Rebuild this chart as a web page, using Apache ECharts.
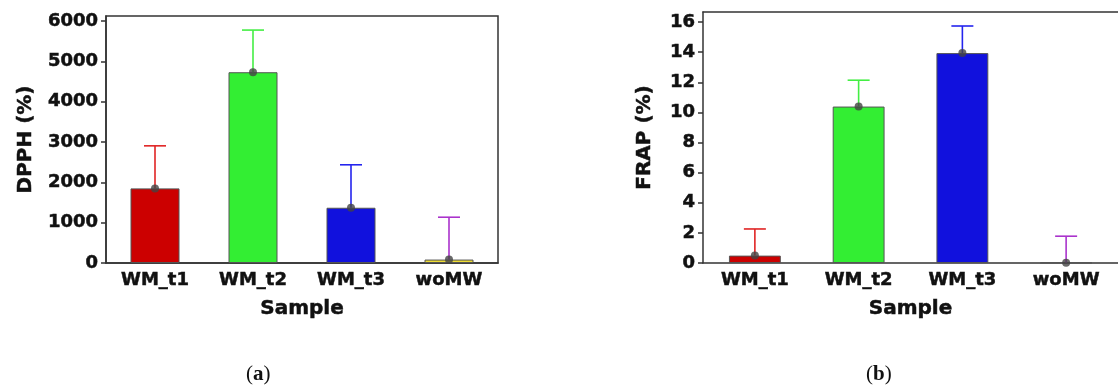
<!DOCTYPE html>
<html>
<head>
<meta charset="utf-8">
<script src="https://cdn.jsdelivr.net/npm/echarts@6/dist/echarts.min.js"></script>
<style>
html,body{margin:0;padding:0;background:#fff;}
#chart{width:1118px;height:390px;}
</style>
</head>
<body>
<div id="chart"></div>
<script>
// 数据
var categories = ['WM_t1', 'WM_t2', 'WM_t3', 'woMW'];
var dpphMean = [1850, 4730, 1370, 85];
var dpphErr = [1055, 1045, 1065, 1050];
var frapMean = [0.49, 10.39, 13.94, 0.02];
var frapErr = [1.77, 1.75, 1.80, 1.76];
var dpphTicks = [0, 1000, 2000, 3000, 4000, 5000, 6000];
var frapTicks = [0, 2, 4, 6, 8, 10, 12, 14, 16];

// 颜色
var barColors = ['#cc0000', '#33ee33', '#1111dd', '#eedd33'];
var errColors = ['#e02424', '#44ee44', '#2424ee', '#aa33cc'];
var font = 'DejaVu Sans';
var txt = {fontFamily: font, fontWeight: 'bold', color: '#111', textBorderColor: '#111', textBorderWidth: 0.5};

function barData(vals){
	return vals.map(function(v, i){
		return {value: v, itemStyle: {color: barColors[i]}};
	});
}
function errData(vals, errs){
	return vals.map(function(v, i){ return [i, v, errs[i]]; });
}
// 误差线
function errRender(params, api){
	var i = api.value(0);
	var m = api.value(1);
	var e = api.value(2);
	var base = api.coord([i, m]);
	var top = api.coord([i, m + e]);
	var st = {stroke: errColors[i], lineWidth: 1.6};
	return {type: 'group', children: [
		{type: 'line', shape: {x1: base[0], y1: base[1], x2: top[0], y2: top[1]}, style: st},
		{type: 'line', shape: {x1: top[0] - 11, y1: top[1], x2: top[0] + 11, y2: top[1]}, style: st}
	]};
}

function xAxis(idx){
	return {
		type: 'category', gridIndex: idx, data: categories,
		name: 'Sample', nameLocation: 'middle', nameGap: 36,
		nameTextStyle: echarts.util.extend({fontSize: 20}, txt),
		axisLine: {lineStyle: {color: '#333', width: 1.5}},
		axisTick: {alignWithLabel: true, length: 4, lineStyle: {color: '#333', width: 1.5}},
		axisLabel: echarts.util.extend({fontSize: 18, margin: 8}, txt)
	};
}
function yAxis(idx, name, max, ticks, gap){
	return {
		type: 'value', gridIndex: idx, min: 0, max: max,
		name: name, nameLocation: 'middle', nameGap: gap, nameRotate: 90,
		nameTextStyle: echarts.util.extend({fontSize: 20}, txt),
		splitLine: {show: false},
		axisLine: {show: true, lineStyle: {color: '#333', width: 1.5}},
		axisTick: {show: true, length: 5, customValues: ticks, lineStyle: {color: '#333', width: 1.5}},
		axisLabel: echarts.util.extend({fontSize: 18, margin: 8, customValues: ticks,
			formatter: function(v){ return String(v); }}, txt)
	};
}

var xs = [xAxis(0), xAxis(1)];
// 右图顶边框
xs.push({type: 'category', gridIndex: 1, position: 'top', data: categories,
	axisLine: {lineStyle: {color: '#333', width: 1.5}}, axisTick: {show: false}, axisLabel: {show: false}});

var chart = echarts.init(document.getElementById('chart'));
var option = {
	backgroundColor: '#fff',
	animation: false,
	grid: [
		{left: 106, top: 16, width: 392, height: 247, show: true, borderColor: '#333', borderWidth: 1.5},
		{left: 703, top: 12, width: 418, height: 251}
	],
	xAxis: xs,
	yAxis: [
		yAxis(0, 'DPPH (%)', 6124, dpphTicks, 70),
		yAxis(1, 'FRAP (%)', 16.67, frapTicks, 48)
	],
	series: [
		{type: 'bar', xAxisIndex: 0, yAxisIndex: 0, barWidth: '50%', data: barData(dpphMean),
		 itemStyle: {borderColor: '#555', borderWidth: 1}},
		{type: 'custom', xAxisIndex: 0, yAxisIndex: 0, renderItem: errRender, data: errData(dpphMean, dpphErr), z: 3},
		{type: 'scatter', xAxisIndex: 0, yAxisIndex: 0, symbolSize: 8, itemStyle: {color: '#444'}, data: dpphMean, z: 4},
		{type: 'bar', xAxisIndex: 1, yAxisIndex: 1, barWidth: '50%', data: barData(frapMean),
		 itemStyle: {borderColor: '#555', borderWidth: 1}},
		{type: 'custom', xAxisIndex: 1, yAxisIndex: 1, renderItem: errRender, data: errData(frapMean, frapErr), z: 3},
		{type: 'scatter', xAxisIndex: 1, yAxisIndex: 1, symbolSize: 8, itemStyle: {color: '#444'}, data: frapMean, z: 4}
	],
	graphic: [
		{type: 'text', left: 246, top: 364, style: {text: '({b|a})', font: '21px "Liberation Serif"', fill: '#111',
			rich: {b: {fontWeight: 'bold', fontFamily: 'Liberation Serif', fontSize: 21}}}},
		{type: 'text', left: 866, top: 364, style: {text: '({b|b})', font: '21px "Liberation Serif"', fill: '#111',
			rich: {b: {fontWeight: 'bold', fontFamily: 'Liberation Serif', fontSize: 21}}}}
	]
};
chart.setOption(option);
</script>
</body>
</html>
